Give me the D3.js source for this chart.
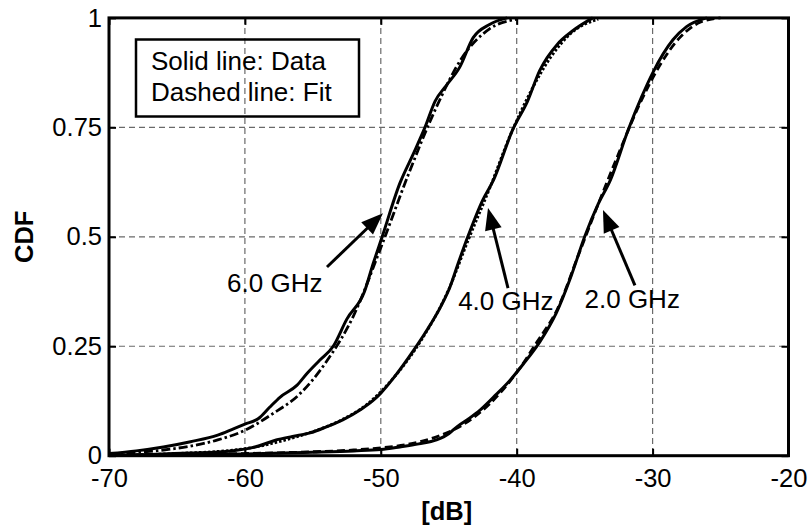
<!DOCTYPE html>
<html><head><meta charset="utf-8">
<script src="https://cdn.jsdelivr.net/npm/d3@7"></script>
<style>
body{margin:0;background:#fff;}
svg{display:block;font-family:"Liberation Sans",Arial,sans-serif;}
</style></head>
<body><svg id="chart" width="808" height="528"></svg>
<script>
// ---- data ----
const xTicks = [-70, -60, -50, -40, -30, -20];
const yTicks = [0, 0.25, 0.5, 0.75, 1];
const yTickLabels = ["0", "0.25", "0.5", "0.75", "1"];

const data6 = [[-70,0.005],[-68,0.011],[-66,0.020],[-64,0.032],[-62,0.047],[-60.8,0.062],[-60,0.072],[-59,0.085],[-58.2,0.110],[-57.4,0.134],[-56.2,0.160],[-55.4,0.189],[-54.5,0.218],[-53.5,0.250],[-52.5,0.312],[-51.2,0.375],[-50.6,0.435],[-49.9,0.500],[-48.6,0.622],[-47.6,0.69],[-46.75,0.750],[-46.0,0.81],[-45.2,0.845],[-44.2,0.887],[-43.2,0.955],[-42.0,0.985],[-40.7,1.0]];
const fit6 = [[-70,0.004],[-66,0.013],[-64,0.022],[-62,0.036],[-60,0.058],[-58,0.095],[-56,0.14],[-54,0.215],[-52,0.32],[-50,0.475],[-48,0.64],[-46,0.79],[-44,0.91],[-42,0.975],[-40,0.997]];

const data4 = [[-70,0.001],[-67,0.003],[-64,0.006],[-61,0.011],[-59,0.022],[-57.7,0.036],[-56.5,0.044],[-55.2,0.052],[-54,0.066],[-52.8,0.082],[-51.5,0.105],[-50.5,0.128],[-50,0.143],[-49,0.18],[-47.6,0.24],[-46.6,0.287],[-45.6,0.34],[-44.9,0.386],[-44.3,0.44],[-43.6,0.50],[-42.5,0.584],[-41.7,0.63],[-40.3,0.744],[-39.2,0.81],[-38.3,0.88],[-37.0,0.94],[-35.9,0.97],[-34.4,1.0]];
const fit4 = [[-70,0.001],[-65,0.005],[-60,0.016],[-57,0.036],[-55,0.055],[-53,0.08],[-51,0.118],[-49,0.18],[-47,0.265],[-45,0.38],[-43.6,0.49],[-42,0.61],[-40.5,0.73],[-39,0.83],[-37.5,0.91],[-36,0.965],[-34,0.997]];

const data2 = [[-70,0.0],[-65,0.002],[-60,0.004],[-55,0.008],[-52,0.011],[-50,0.014],[-48.6,0.02],[-47.2,0.027],[-45.9,0.036],[-45,0.05],[-44.4,0.066],[-43.5,0.085],[-42.7,0.104],[-41.5,0.14],[-40.5,0.172],[-39.5,0.21],[-38.3,0.26],[-37.1,0.325],[-36,0.41],[-35,0.5],[-34,0.575],[-33.1,0.63],[-31.8,0.744],[-30.8,0.82],[-30,0.874],[-28.5,0.95],[-27.5,0.98],[-26,1.0]];
const fit2 = [[-70,0.0005],[-65,0.002],[-60,0.005],[-55,0.009],[-52,0.013],[-50,0.018],[-48,0.026],[-46,0.042],[-44,0.07],[-42,0.118],[-40,0.19],[-38.5,0.26],[-37,0.335],[-35.5,0.455],[-34,0.575],[-32.5,0.69],[-31,0.8],[-29.5,0.89],[-28,0.955],[-26.5,0.99],[-25,1.0]];

const legendLines = ["Solid line: Data", "Dashed line: Fit"];
// annotations: label, text position [dB, cdf], arrow from, arrow tip
const annLabels = ["6.0 GHz", "4.0 GHz", "2.0 GHz"];
const annText = [[-57.8,0.375],[-40.8,0.333],[-31.5,0.337]];
const annFrom = [[-53.96,0.431],[-40.64,0.383],[-31.30,0.389]];
const annTip  = [[-49.84,0.554],[-42.11,0.566],[-33.65,0.561]];

// ---- drawing ----
const svg = d3.select("#chart");
const L = 109, R = 788.5, T = 17.9, B = 455.7;
const x = d3.scaleLinear().domain([-70, -20]).range([L, R]);
const y = d3.scaleLinear().domain([0, 1]).range([B, T]);
const FS = 26, FT = 25.5;

// grid
const grid = svg.append("g").attr("stroke", "#6a6a6a").attr("stroke-width", 1.2).attr("stroke-dasharray", "6,4");
grid.selectAll("line.v").data(xTicks.slice(1, -1)).join("line")
  .attr("x1", d => x(d)).attr("x2", d => x(d)).attr("y1", T).attr("y2", B);
grid.selectAll("line.h").data(yTicks.slice(1, -1)).join("line")
  .attr("x1", L).attr("x2", R).attr("y1", d => y(d)).attr("y2", d => y(d));

// curves
svg.append("clipPath").attr("id", "clip").append("rect")
  .attr("x", L).attr("y", T - 2).attr("width", R - L).attr("height", B - T + 2);
const line = d3.line().curve(d3.curveMonotoneX).x(d => x(d[0])).y(d => y(d[1]));
const curves = svg.append("g").attr("clip-path", "url(#clip)").attr("fill", "none").attr("stroke", "#000");
const series = [
  {d: fit6, dash: "9,3,2.5,3", w: 2.8},
  {d: fit4, dash: "2.5,2", w: 2.8},
  {d: fit2, dash: "8,4", w: 2.8},
  {d: data6, dash: null, w: 3},
  {d: data4, dash: null, w: 3},
  {d: data2, dash: null, w: 3}
];
series.forEach(s => {
  curves.append("path").attr("d", line(s.d)).attr("stroke-width", s.w)
    .attr("stroke-dasharray", s.dash).attr("stroke-linejoin", "round");
});

// axes
const xAxisB = d3.axisBottom(x).tickValues(xTicks).tickSizeInner(-7).tickSizeOuter(0).tickPadding(13.5).tickFormat(d => String(d));
const xAxisT = d3.axisTop(x).tickValues(xTicks).tickSizeInner(-7).tickSizeOuter(0).tickFormat("");
const yAxisL = d3.axisLeft(y).tickValues(yTicks).tickSizeInner(-7).tickSizeOuter(0).tickPadding(7).tickFormat((d, i) => yTickLabels[i]);
const yAxisR = d3.axisRight(y).tickValues(yTicks).tickSizeInner(-7).tickSizeOuter(0).tickFormat("");
function styleAxis(g) {
  g.select(".domain").remove();
  g.selectAll(".tick line").attr("stroke", "#000").attr("stroke-width", 2);
  g.selectAll(".tick text").attr("fill", "#000").attr("font-size", FT).attr("font-family", "Liberation Sans, Arial, sans-serif");
}
svg.append("g").attr("transform", `translate(0,${B})`).call(xAxisB).call(styleAxis);
svg.append("g").attr("transform", `translate(0,${T})`).call(xAxisT).call(styleAxis);
svg.append("g").attr("transform", `translate(${L},0)`).call(yAxisL).call(styleAxis);
svg.append("g").attr("transform", `translate(${R},0)`).call(yAxisR).call(styleAxis);

// box
svg.append("rect").attr("x", L).attr("y", T).attr("width", R - L).attr("height", B - T)
  .attr("fill", "none").attr("stroke", "#000").attr("stroke-width", 3);

// axis titles
svg.append("text").attr("x", (L + R) / 2 - 2).attr("y", 520).attr("text-anchor", "middle")
  .attr("font-size", FT).attr("font-weight", "bold").text("[dB]");
svg.append("text").attr("transform", `translate(33,${(T + B) / 2}) rotate(-90)`).attr("text-anchor", "middle")
  .attr("font-size", FT).attr("font-weight", "bold").text("CDF");

// legend box
svg.append("rect").attr("x", 136).attr("y", 39.5).attr("width", 223).attr("height", 77)
  .attr("fill", "none").attr("stroke", "#000").attr("stroke-width", 2.5);
svg.selectAll("text.leg").data(legendLines).join("text").attr("class", "leg")
  .attr("x", 151).attr("y", (d, i) => 70 + i * 31).attr("font-size", FS).text(d => d);

// annotations
const ann = svg.append("g");
annLabels.forEach((lab, i) => {
  ann.append("text").attr("x", x(annText[i][0])).attr("y", y(annText[i][1]))
    .attr("text-anchor", "middle").attr("font-size", FS).text(lab);
  const x0 = x(annFrom[i][0]), y0 = y(annFrom[i][1]);
  const x1 = x(annTip[i][0]), y1 = y(annTip[i][1]);
  const ang = Math.atan2(y1 - y0, x1 - x0);
  const hl = 22, hw = 8.5;
  const bx = x1 - hl * Math.cos(ang), by = y1 - hl * Math.sin(ang);
  ann.append("line").attr("x1", x0).attr("y1", y0).attr("x2", bx + 2 * Math.cos(ang)).attr("y2", by + 2 * Math.sin(ang))
    .attr("stroke", "#000").attr("stroke-width", 3);
  const p = [[x1, y1],
    [bx + hw * Math.sin(ang), by - hw * Math.cos(ang)],
    [bx - hw * Math.sin(ang), by + hw * Math.cos(ang)]];
  ann.append("path").attr("d", "M" + p.map(q => q.join(",")).join("L") + "Z").attr("fill", "#000");
});
</script>
</body></html>
